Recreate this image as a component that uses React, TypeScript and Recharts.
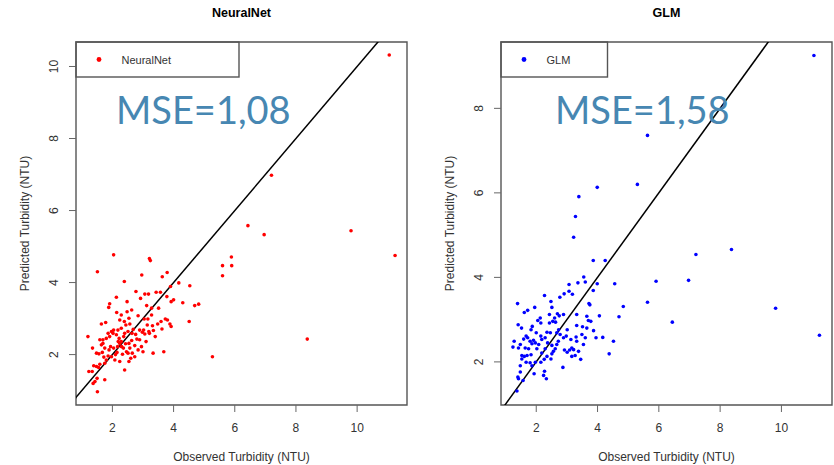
import {
  ReferenceArea,
  ReferenceLine,
  Scatter,
  ScatterChart,
  XAxis,
  YAxis,
} from "recharts";

// observed, predicted (NTU)
const neuralNetPoints: [number, number][] = [
  [11.05, 10.32], [11.24, 4.75], [9.8, 5.44], [8.37, 2.43], [7.2, 6.98], [6.43, 5.58],
  [6.96, 5.33], [5.89, 4.71], [5.6, 4.47], [5.9, 4.47], [5.6, 4.19], [5.27, 1.94],
  [4.82, 3.4], [4.69, 3.36], [4.51, 2.92], [4.53, 3.91], [4.3, 3.44], [4.17, 3.99],
  [4.0, 3.52], [3.92, 3.47], [3.78, 3.61], [3.9, 3.89], [3.79, 4.28], [3.63, 4.16],
  [3.21, 4.67], [3.24, 4.61], [2.96, 4.21], [2.04, 4.77], [1.51, 4.3], [2.39, 4.03],
  [2.13, 3.59], [2.77, 3.75], [3.06, 3.68], [3.18, 3.68], [3.43, 3.73], [3.57, 3.73],
  [2.92, 3.56], [1.91, 3.41], [1.88, 3.31], [2.48, 3.47], [3.28, 3.29], [3.51, 3.29],
  [3.12, 3.36], [2.63, 3.24], [2.14, 3.17], [2.48, 3.19], [2.29, 3.1], [2.84, 3.08],
  [3.28, 3.1], [3.16, 2.99], [3.04, 2.99], [3.73, 2.99], [3.8, 2.96], [3.59, 2.92],
  [3.88, 2.85], [3.92, 2.78], [3.62, 2.71], [3.48, 2.85], [3.31, 2.8], [3.14, 2.82],
  [2.24, 2.96], [2.39, 2.92], [2.54, 3.01], [2.44, 2.82], [2.57, 2.85], [1.64, 2.85],
  [1.78, 2.89], [2.68, 2.7], [2.64, 2.59], [2.76, 2.56], [2.89, 2.68], [2.98, 2.62],
  [3.02, 2.68], [3.19, 2.64], [3.34, 2.67], [3.4, 2.5], [3.68, 2.08], [3.33, 2.04],
  [3.0, 2.08], [2.84, 2.13], [2.95, 2.22], [2.73, 2.25], [2.54, 2.31], [2.63, 2.39],
  [2.8, 2.43], [2.57, 2.18], [2.51, 2.04], [2.6, 1.9], [2.54, 1.81], [2.4, 1.57],
  [2.24, 1.81], [2.33, 2.01], [2.46, 2.08], [2.15, 2.06], [2.04, 2.18], [2.17, 2.22],
  [2.3, 2.22], [1.97, 1.94], [2.08, 1.85], [1.8, 1.85], [1.86, 1.96], [1.72, 1.93],
  [1.67, 2.06], [1.56, 2.02], [1.48, 2.04], [1.64, 2.27], [1.75, 2.18], [1.69, 2.41],
  [1.8, 2.45], [1.91, 2.5], [2.02, 2.59], [2.13, 2.55], [2.04, 2.68], [1.97, 2.64],
  [1.86, 2.59], [2.22, 2.45], [2.29, 2.36], [2.37, 2.5], [2.24, 2.31], [2.19, 2.36],
  [1.2, 2.5], [1.35, 2.18], [1.39, 1.69], [1.48, 1.67], [1.55, 1.64], [1.59, 1.73],
  [1.75, 1.76], [1.23, 1.53], [1.34, 1.53], [1.5, 1.34], [1.37, 1.2], [1.43, 1.25],
  [1.75, 1.3], [1.51, 0.97], [1.89, 2.13], [1.94, 2.22], [1.59, 2.41], [2.4, 2.59],
  [2.51, 2.64], [2.29, 2.73], [2.18, 2.68], [3.1, 2.36], [3.21, 2.59], [3.06, 2.57],
  [2.89, 2.41], [1.69, 2.31], [2.1, 2.0], [2.36, 2.18], [2.65, 2.04], [2.73, 1.94],
  [2.43, 2.3],
];

const glmPoints: [number, number][] = [
  [11.06, 9.25], [11.24, 2.63], [9.81, 3.27], [8.37, 4.66], [7.21, 4.54], [6.97, 3.93],
  [6.44, 2.94], [5.91, 3.91], [5.63, 3.41], [5.63, 7.36], [5.3, 6.2], [4.84, 3.31],
  [4.7, 3.07], [4.56, 3.85], [4.52, 2.49], [4.38, 2.19], [4.17, 2.58], [4.06, 3.09],
  [3.99, 3.85], [4.25, 4.4], [3.86, 4.4], [3.99, 6.13], [3.39, 5.91], [3.28, 5.44],
  [3.22, 4.95], [3.55, 4.01], [3.6, 3.89], [3.36, 3.87], [3.07, 3.83], [3.18, 3.6],
  [2.91, 3.61], [3.07, 3.67], [2.77, 3.53], [2.27, 3.57], [2.48, 3.43], [3.72, 3.38],
  [3.75, 3.35], [3.86, 3.69], [1.39, 3.38], [1.95, 3.29], [1.72, 3.22], [1.61, 3.17],
  [2.51, 3.29], [2.69, 3.14], [2.75, 3.09], [2.89, 3.12], [3.32, 3.12], [3.65, 3.08],
  [2.6, 3.04], [2.43, 3.12], [2.13, 3.04], [2.05, 2.98], [2.15, 2.92], [2.54, 2.96],
  [2.63, 2.94], [2.43, 2.92], [3.7, 2.98], [3.78, 2.96], [3.87, 2.74], [3.51, 2.83],
  [3.32, 2.86], [3.01, 2.76], [2.73, 2.76], [2.67, 2.69], [2.78, 2.65], [2.35, 2.7],
  [2.46, 2.69], [2.0, 2.69], [1.87, 2.84], [1.83, 2.76], [1.41, 2.88], [1.52, 2.8],
  [1.67, 2.61], [1.72, 2.57], [1.8, 2.49], [1.91, 2.51], [1.97, 2.45], [1.86, 2.43],
  [1.59, 2.54], [1.48, 2.41], [1.28, 2.49], [1.24, 2.35], [1.42, 2.33], [1.75, 2.31],
  [1.64, 2.33], [2.08, 2.41], [2.18, 2.53], [2.29, 2.57], [2.15, 2.61], [2.37, 2.45],
  [2.51, 2.39], [2.67, 2.41], [2.72, 2.49], [2.89, 2.57], [2.98, 2.61], [3.13, 2.53],
  [3.3, 2.59], [3.49, 2.65], [3.6, 2.57], [3.54, 2.41], [3.95, 2.57], [3.16, 2.33],
  [3.22, 2.29], [3.09, 2.28], [3.38, 2.25], [3.45, 2.06], [3.27, 2.15], [3.16, 2.13],
  [2.92, 2.28], [2.62, 2.31], [2.56, 2.25], [2.51, 2.19], [2.48, 2.07], [2.29, 2.31],
  [2.18, 2.21], [2.35, 2.13], [2.26, 2.06], [2.15, 1.99], [1.97, 1.99], [1.83, 2.17],
  [1.7, 2.15], [1.61, 2.13], [1.53, 2.07], [1.67, 1.99], [1.48, 1.91], [1.8, 1.98],
  [1.86, 1.91], [2.87, 1.87], [1.48, 1.76], [1.93, 1.72], [2.27, 1.78], [2.24, 1.68],
  [2.33, 1.6], [1.4, 1.64], [1.42, 1.6], [1.57, 1.56], [1.37, 1.31], [1.53, 2.15],
  [2.02, 2.31], [3.01, 2.23], [3.32, 2.49], [3.65, 2.8],
];

const xTicks = [2, 4, 6, 8, 10];
const neuralNetYTicks = [2, 4, 6, 8, 10];
const glmYTicks = [2, 4, 6, 8];

const CHART_W = 417;
const CHART_H = 465;
const Y_AXIS_W = 40;
const X_AXIS_H = 30;
const FONT = "'Liberation Sans', Arial, sans-serif";

type PanelProps = {
  title: string;
  name: string;
  color: string;
  mse: string;
  points: [number, number][];
  yTicks: number[];
  xDomain: [number, number];
  yDomain: [number, number];
  left: number;
  plotLeft: number;
  plotRight: number;
  legendWidth: number;
  mseX: number;
};

function YTick({ x, y, payload }: any) {
  return (
    <text
      x={x}
      y={y}
      transform={`rotate(-90, ${x}, ${y})`}
      textAnchor="middle"
      fontSize={12}
      fill="#333"
    >
      {payload.value}
    </text>
  );
}

function Panel(props: PanelProps) {
  const {
    title, name, color, mse, points, yTicks, xDomain, yDomain,
    left, plotLeft, plotRight, legendWidth, mseX,
  } = props;
  const rows = points.map(([observed, predicted]) => ({ observed, predicted }));
  const top = 42;
  const bottom = 405;
  const plotCenterX = (plotLeft + plotRight) / 2;

  return (
    <div style={{ position: "absolute", left, top: 0, width: CHART_W, height: CHART_H }}>
      <ScatterChart
        width={CHART_W}
        height={CHART_H}
        margin={{
          top,
          right: CHART_W - plotRight,
          bottom: CHART_H - bottom - X_AXIS_H,
          left: plotLeft - Y_AXIS_W,
        }}
      >
        <XAxis
          dataKey="observed"
          type="number"
          domain={xDomain}
          allowDataOverflow
          ticks={xTicks}
          height={X_AXIS_H}
          axisLine={false}
          tickLine={{ stroke: "#666" }}
          tickSize={7}
          tickMargin={11}
          tick={{ fill: "#333", fontSize: 12 }}
          label={({ viewBox }: any) => (
            <text
              x={viewBox.x + viewBox.width / 2}
              y={viewBox.y + 56}
              textAnchor="middle"
              fontSize={12}
              fill="#333"
            >
              Observed Turbidity (NTU)
            </text>
          )}
        />
        <YAxis
          dataKey="predicted"
          type="number"
          domain={yDomain}
          allowDataOverflow
          ticks={yTicks}
          width={Y_AXIS_W}
          axisLine={false}
          tickLine={{ stroke: "#666" }}
          tickSize={7}
          tickMargin={10.5}
          tick={<YTick />}
          label={({ viewBox }: any) => {
            const lx = viewBox.x + viewBox.width - 46.7;
            const ly = viewBox.y + viewBox.height / 2;
            return (
              <text
                x={lx}
                y={ly}
                transform={`rotate(-90, ${lx}, ${ly})`}
                textAnchor="middle"
                fontSize={12}
                fill="#333"
              >
                Predicted Turbidity (NTU)
              </text>
            );
          }}
        />
        <ReferenceArea
          x1={xDomain[0]}
          x2={xDomain[1]}
          y1={yDomain[0]}
          y2={yDomain[1]}
          fill="none"
          stroke="#555"
          strokeWidth={1.4}
          ifOverflow="visible"
        />
        <ReferenceLine
          segment={[
            { x: 0, y: 0 },
            { x: 12, y: 12 },
          ]}
          stroke="#000"
          strokeWidth={1.5}
          ifOverflow="hidden"
        />
        <Scatter
          data={rows}
          fill={color}
          isAnimationActive={false}
          shape={(p: any) => <circle cx={p.cx} cy={p.cy} r={1.8} fill={color} />}
        />
      </ScatterChart>
      <svg
        width={CHART_W}
        height={CHART_H}
        style={{ position: "absolute", left: 0, top: 0, pointerEvents: "none" }}
      >
        <text
          x={plotCenterX}
          y={17.3}
          textAnchor="middle"
          fontSize={12.5}
          fontWeight="bold"
          fill="#000"
        >
          {title}
        </text>
        <rect
          x={plotLeft}
          y={top}
          width={legendWidth}
          height={35}
          fill="none"
          stroke="#555"
          strokeWidth={1.4}
        />
        <circle cx={plotLeft + 23} cy={59.5} r={2.4} fill={color} />
        <text x={plotLeft + 45.5} y={63.5} fontSize={11} fill="#333">
          {name}
        </text>
        <text
          x={mseX}
          y={124}
          fontSize={38}
          fill="#4787b2"
          fontFamily="Lato, 'Open Sans', sans-serif"
        >
          {mse}
        </text>
      </svg>
    </div>
  );
}

export default function App() {
  return (
    <div
      style={{
        position: "absolute",
        left: 0,
        top: 0,
        width: 834,
        height: 465,
        background: "#fff",
        overflow: "hidden",
        fontFamily: FONT,
      }}
    >
      <Panel
        title="NeuralNet"
        name="NeuralNet"
        color="#ff0000"
        mse="MSE=1,08"
        points={neuralNetPoints}
        yTicks={neuralNetYTicks}
        xDomain={[0.81, 11.63]}
        yDomain={[0.6, 10.68]}
        left={0}
        plotLeft={76}
        plotRight={407}
        legendWidth={163}
        mseX={116}
      />
      <Panel
        title="GLM"
        name="GLM"
        color="#0000ff"
        mse="MSE=1,58"
        points={glmPoints}
        yTicks={glmYTicks}
        xDomain={[0.85, 11.65]}
        yDomain={[0.98, 9.57]}
        left={417}
        plotLeft={84}
        plotRight={415}
        legendWidth={106.5}
        mseX={138}
      />
    </div>
  );
}
